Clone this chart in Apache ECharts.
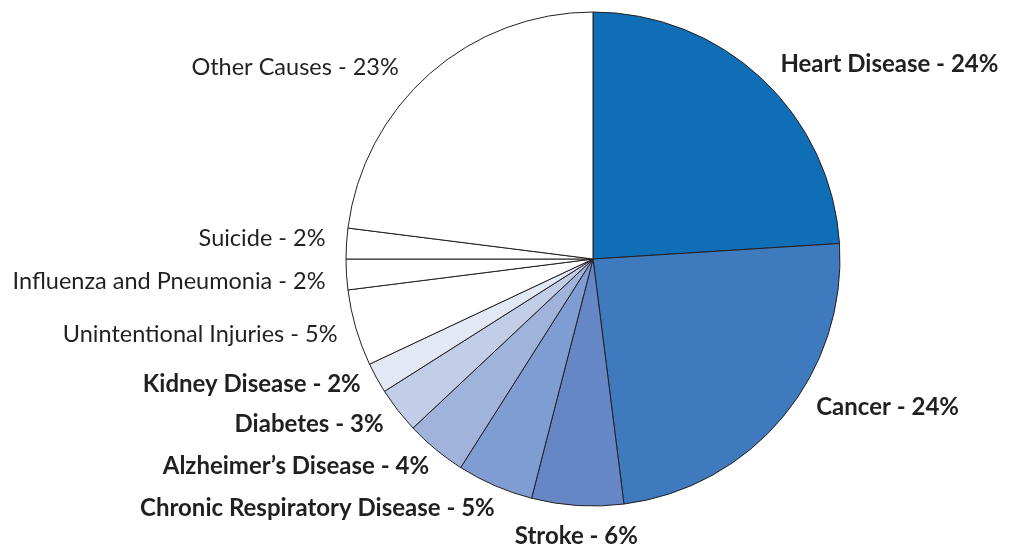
<!DOCTYPE html>
<html><head><meta charset="utf-8">
<script src="https://cdn.jsdelivr.net/npm/echarts@6/dist/echarts.min.js"></script>
<style>html,body{margin:0;padding:0;background:#fff}#c{width:1016px;height:546px}</style>
</head><body><div id="c"></div>
<script>
const categories = ["Heart Disease","Cancer","Stroke","Chronic Respiratory Disease","Alzheimer’s Disease","Diabetes","Kidney Disease","Unintentional Injuries","Influenza and Pneumonia","Suicide","Other Causes"];
const percents = [24,24,6,5,4,3,2,5,2,2,23];
const colors = ["#106EB7","#3F7ABE","#6687C6","#7F9DD3","#A0B3DB","#C2CDE7","#E3E8F5","#FFFFFF","#FFFFFF","#FFFFFF","#FFFFFF"];
const boldFlags = [true,true,true,true,true,true,true,false,false,false,false];

// small label nudges (style only)
const labelNudge = [[1,-2],[14,-21],[5,13],[12,6],[10,3],[5,3],[5,-2],[4,1],[2,6],[2,-4],[-14,7]];

const chart = echarts.init(document.getElementById('c'), null, {renderer:'canvas'});
chart.setOption({
  animation:false,
  series:[{
    type:'pie',
    center:[593,259],
    radius:247,
    startAngle:90,
    clockwise:true,
    avoidLabelOverlap:false,
    itemStyle:{borderColor:'#231f20',borderWidth:1},
    label:{show:true,position:'outside',color:'#231f20',fontFamily:'Lato',
      formatter:p=>p.name+' - '+p.value+'%'},
    labelLine:{show:false,length:18,length2:0},
    labelLayout:function(p){
      const n = labelNudge[p.dataIndex];
      const r = {dx:n[0],dy:n[1]};
      if(p.dataIndex===2){ r.align='center'; }
      return r;
    },
    data:categories.map((n,i)=>({name:n,value:percents[i],
      itemStyle:{color:colors[i]},
      label:{fontWeight:boldFlags[i]?'bold':'normal',fontSize:boldFlags[i]?24:23.5}}))
  }]
});
</script></body></html>
